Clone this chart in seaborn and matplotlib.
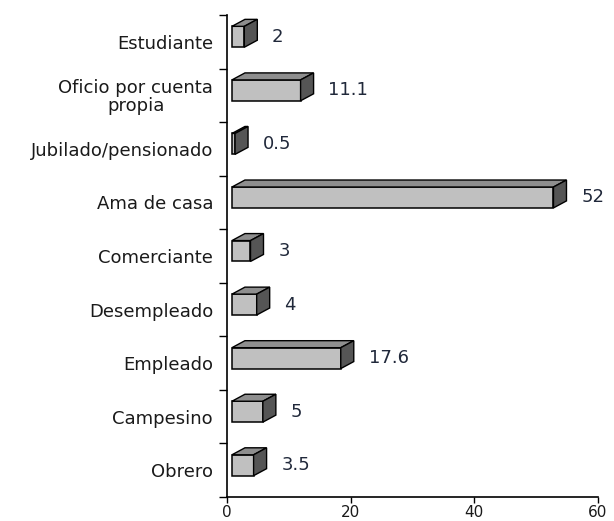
import matplotlib
matplotlib.use("Agg")
import matplotlib.pyplot as plt
from matplotlib.patches import Polygon
from matplotlib.ticker import FixedLocator
import seaborn as sns
import pandas as pd

# Ocupación de los encuestados (%)
categorias = ["Estudiante", "Oficio por cuenta\npropia", "Jubilado/pensionado",
              "Ama de casa", "Comerciante", "Desempleado", "Empleado",
              "Campesino", "Obrero"]
porcentajes = [2, 11.1, 0.5, 52, 3, 4, 17.6, 5, 3.5]
etiquetas = ["2", "11.1", "0.5", "52", "3", "4", "17.6", "5", "3.5"]
x_ticks = [0, 20, 40, 60]

sns.set_theme(style="white")
plt.rcParams["font.family"] = ["DejaVu Sans"]

FRENTE = "#c0c0c0"
TAPA = "#8e8e8e"
LADO = "#555555"
TEXTO = "#1a1a1a"

fig = plt.figure(figsize=(6.14, 5.21), dpi=100)
ax = fig.add_axes([227 / 614, 1 - 497 / 521, 371 / 614, 482 / 521])

df = pd.DataFrame({"ocupacion": categorias, "porcentaje": porcentajes})
sns.barplot(data=df, x="porcentaje", y="ocupacion", orient="h",
            color=FRENTE, saturation=1, width=0.39,
            edgecolor="black", linewidth=1.1, ax=ax)

ax.set_xlim(0, 60)
ax.set_ylim(8.5, -0.5)
ax.set_xlabel("")
ax.set_ylabel("")

# separate the bars slightly from the axis and lift them within their slot
for p in ax.patches:
    p.set_x(0.8)
    p.set_y(p.get_y() - 0.093)

# 3-D depth: top and side faces offset in pixels
dx, dy = 13, 7
inv = ax.transData.inverted()
for p, lab in zip(ax.patches, etiquetas):
    x0, y0 = p.get_x(), p.get_y()
    w, h = p.get_width(), p.get_height()
    tl = ax.transData.transform((x0, y0))
    tr = ax.transData.transform((x0 + w, y0))
    br = ax.transData.transform((x0 + w, y0 + h))
    off = (dx, dy)
    top = [tl, tr, tr + off, tl + off]
    side = [tr, br, br + off, tr + off]
    ax.add_patch(Polygon(inv.transform(top), closed=True, facecolor=TAPA,
                         edgecolor="black", linewidth=1.0, clip_on=False))
    ax.add_patch(Polygon(inv.transform(side), closed=True, facecolor=LADO,
                         edgecolor="black", linewidth=1.0, clip_on=False))
    ax.annotate(lab, xy=(x0 + w, y0 + h / 2), xytext=(20, 0),
                textcoords="offset points", ha="left", va="center",
                fontsize=13, color="#20283a", annotation_clip=False)

ax.set_yticks(range(len(categorias)))
ax.set_yticklabels(categorias, fontsize=13, color=TEXTO,
                   multialignment="center", linespacing=1.0)
ax.yaxis.set_minor_locator(FixedLocator([i - 0.5 for i in range(len(categorias) + 1)]))
ax.tick_params(axis="y", which="major", length=0, pad=10)
ax.tick_params(axis="y", which="minor", left=True, length=6, width=1.0,
               color="black", direction="out")

ax.set_xticks(x_ticks)
ax.set_xticklabels([str(t) for t in x_ticks], fontsize=11, color=TEXTO)
ax.tick_params(axis="x", which="major", bottom=True, length=4.5, width=1.0,
               color="black", direction="out", pad=1)

sns.despine(ax=ax)
for s in ("left", "bottom"):
    ax.spines[s].set_color("black")
    ax.spines[s].set_linewidth(1.2)

fig.savefig("out.png", dpi=100, facecolor="white")
